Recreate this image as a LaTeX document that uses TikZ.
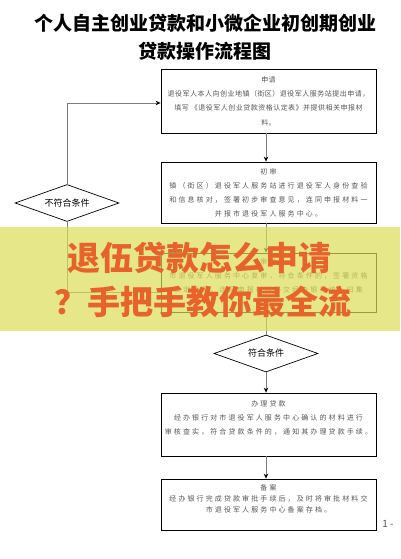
\documentclass[tikz,border=0pt]{standalone}
\usepackage{fontspec}
\setmainfont{Noto Sans CJK SC}
\usetikzlibrary{shapes.geometric,arrows.meta}
\definecolor{txtgray}{RGB}{85,85,85}
\definecolor{conngray}{RGB}{125,125,125}
\definecolor{bandyellow}{RGB}{219,222,88}
\definecolor{bandred}{RGB}{232,98,44}
\begin{document}
\begin{tikzpicture}[x=1pt,y=-1pt,
  box/.style={draw=black, line width=0.8pt, minimum width=215pt, inner sep=0pt,
    align=center, text=txtgray, font=\fontsize{7}{14}\selectfont\addfontfeature{LetterSpace=30}},
  dia/.style={diamond, draw=black, line width=0.7pt, minimum width=104pt, minimum height=37pt,
    inner sep=0pt, aspect=2.8, font=\fontsize{9}{10}\selectfont},
  conn/.style={draw=conngray, line width=0.9pt},
  arr/.style={conn, -{Stealth[length=5pt,width=4.5pt,color=black]}},
  ttl/.style={font=\fontsize{19}{22}\selectfont\bfseries, text=black},
  big/.style={font=\fontsize{33}{36}\selectfont\bfseries, text=bandred}
]
\useasboundingbox (0,0) rectangle (400,559);
\fill[white] (0,0) rectangle (400,559);

% title
\node[ttl] (t1) at (205,23) {个人自主创业贷款和小微企业初创期创业};
\node[ttl] (t2) at (205,51) {贷款操作流程图};

% boxes
\node[box, minimum height=64pt, font=\fontsize{7}{14.3}\selectfont\addfontfeature{LetterSpace=7}] (b1) at (268.5,101)
  {申请\\退役军人本人向创业地镇（街区）退役军人服务站提出申请，\\填写 《退役军人创业贷款资格认定表》并提供相关申报材\\料。};
\node[box, minimum height=61pt] (b2) at (268.5,192.5)
  {初审\\镇（街区）退役军人服务站进行退役军人身份查验\\和信息核对，签署初步审查意见，连同申报材料一\\并报市退役军人服务中心。};
\node[box, minimum height=59pt] (b3) at (268.5,282.5)
  {审核\\市退役军人服务中心复审，符合条件的，签署资格\\认定意见，连同申报材料移交经办银行统一归集\\存档。};
\node[dia] (ok) at (266,353.5) {符合条件};
\node[dia] (no) at (67,203) {不符合条件};
\node[box, minimum height=63pt] (b4) at (268.5,424.5)
  {办理贷款\\经办银行对市退役军人服务中心确认的材料进行\\审核查实，符合贷款条件的，通知其办理贷款手续。\\\mbox{}};
\node[box, minimum height=51pt, font=\fontsize{7}{11}\selectfont\addfontfeature{LetterSpace=30}] (b5) at (268.5,504.5)
  {备案\\经办银行完成贷款审批手续后，及时将审批材料交\\市退役军人服务中心备案存档。\\\mbox{}};

% connectors
\draw[arr] (b1.south -| ok) -- (b2.north -| ok);
\draw[arr] (b2.south -| ok) -- (b3.north -| ok);
\draw[conn] (b3.south -| ok) -- (ok.north);
\draw[arr] (ok.south) -- (b4.north -| ok);
\draw[arr] (b4.south -| ok) -- (b5.north -| ok);
\draw[arr] (no.north) |- ([yshift=-2pt]b1.west);
\draw[conn] ([yshift=-9.5pt]b3.west) -| (no.south);

% page number
\node[font=\fontsize{10}{12}\selectfont, text=txtgray] (pg) at (388,524) {1 -};

% overlay band
\fill[bandyellow, opacity=0.7] (0,227) rectangle (400,331);
\node[big] (r1) at (199,258) {退伍贷款怎么申请};
\node[big] (r2) at (203,302) {？手把手教你最全流};
\end{tikzpicture}
\end{document}
